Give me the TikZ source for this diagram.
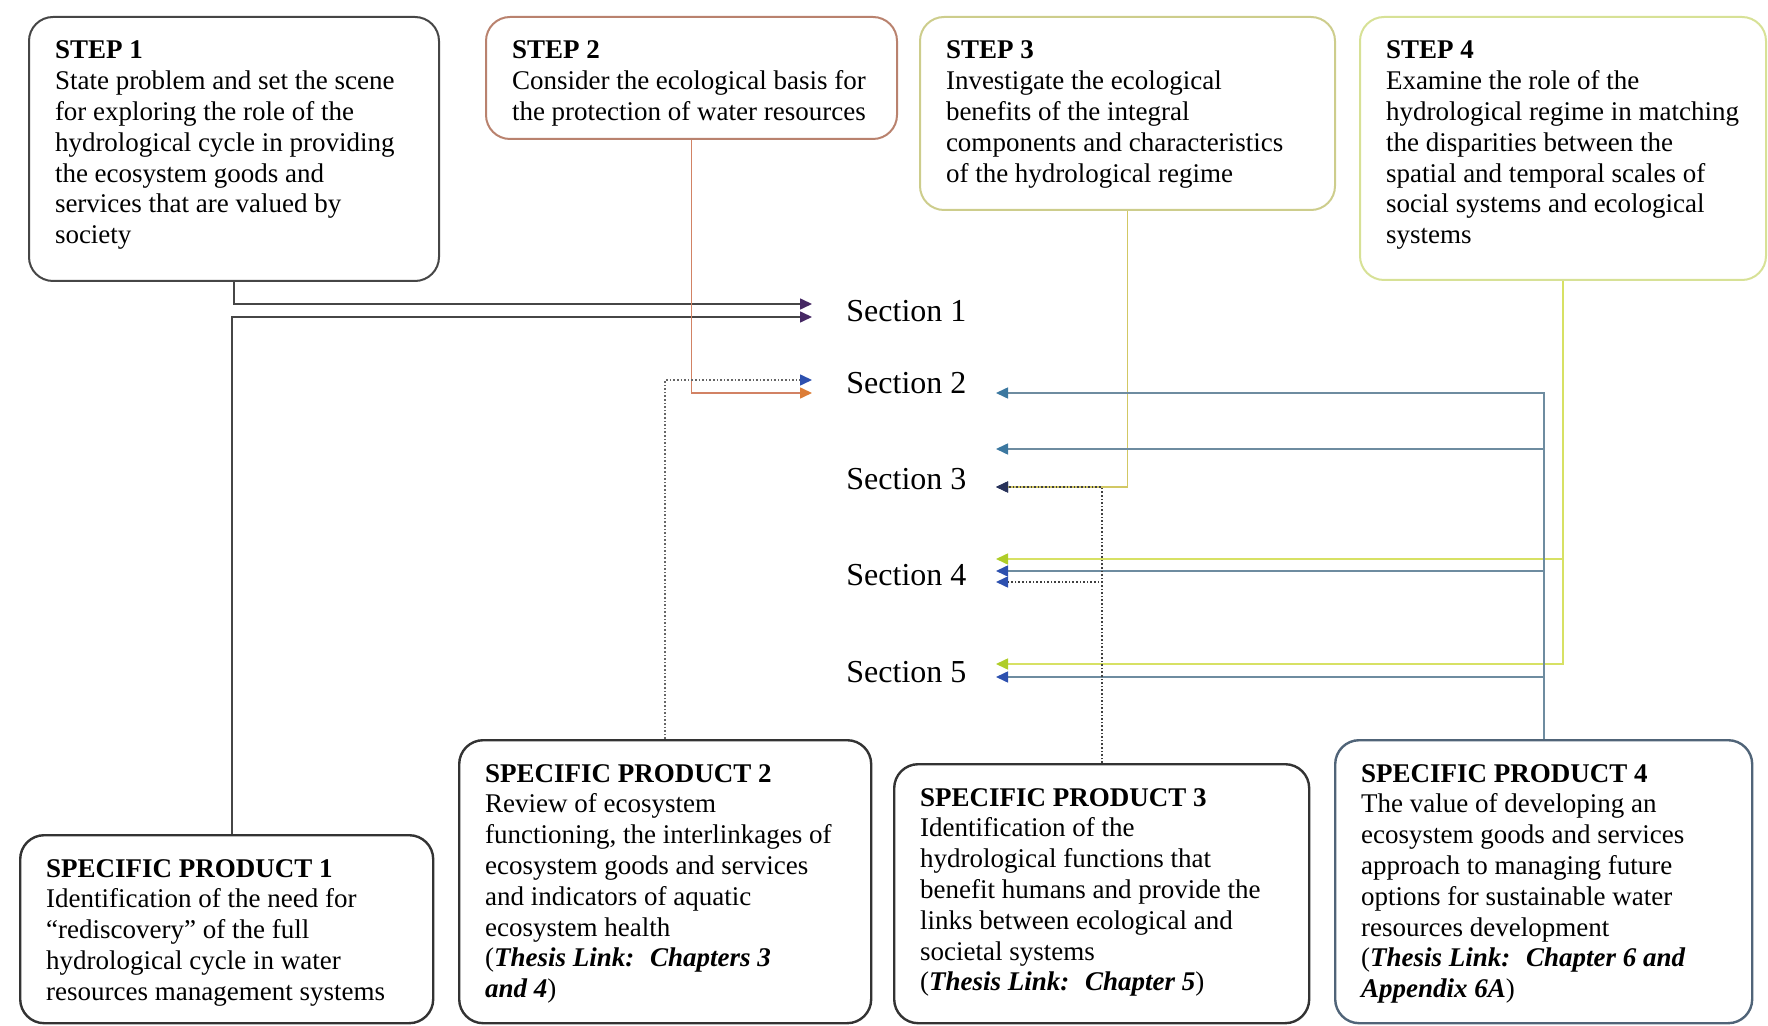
\documentclass[tikz,border=0pt]{standalone}
\usepackage{fontspec}
\setmainfont{Liberation Serif}
\usepackage{tikz}
\usetikzlibrary{arrows.meta,positioning,calc}
\definecolor{boxgray}{RGB}{70,70,70}
\definecolor{steptwo}{RGB}{185,130,110}
\definecolor{stepthree}{RGB}{205,205,140}
\definecolor{stepfour}{RGB}{215,225,150}
\definecolor{prodfour}{RGB}{80,100,120}
\definecolor{lineone}{RGB}{70,70,70}
\definecolor{linetwo}{RGB}{210,130,100}
\definecolor{linethree}{RGB}{210,200,100}
\definecolor{linefour}{RGB}{215,225,100}
\definecolor{lineprod}{RGB}{110,140,160}
\definecolor{headpurple}{RGB}{70,40,100}
\definecolor{headblue}{RGB}{45,80,175}
\definecolor{headorange}{RGB}{220,125,55}
\definecolor{headteal}{RGB}{60,120,160}
\definecolor{headnavy}{RGB}{40,50,90}
\definecolor{headgreen}{RGB}{175,205,40}
\newcommand{\boxtext}[3]{\parbox[c][#2][t]{#1}{\fontsize{13.5}{15.4}\selectfont #3}}

\begin{document}
\begin{tikzpicture}[x=0.5pt, y=-0.5pt,
    box/.style={draw=boxgray, rounded corners=12pt, line width=1pt, anchor=north west, inner xsep=13pt, inner ysep=12pt},
    prodbox/.style={box, draw=black!80, line width=1.2pt},
    seclabel/.style={anchor=west, inner sep=0pt, font=\fontsize{16}{19}\selectfont},
    link/.style={line width=0.8pt},
    headin/.style={-{Triangle[length=6pt,width=5.5pt,color=#1]}}]
    \useasboundingbox (0,0) rectangle (1768,1026);

    % Steps
    \node[box] (s1) at (28,16) {\boxtext{179pt}{108pt}{\textbf{STEP 1}\\
        State problem and set the scene\\ for exploring the role of the\\
        hydrological cycle in providing\\ the ecosystem goods and\\
        services that are valued by\\ society}};
    \node[box, draw=steptwo] (s2) at (485,16) {\boxtext{179.5pt}{37pt}{\textbf{STEP 2}\\
        Consider the ecological basis for\\ the protection of water resources}};
    \node[box, draw=stepthree] (s3) at (919,16) {\boxtext{181.5pt}{72.5pt}{\textbf{STEP 3}\\
        Investigate the ecological\\ benefits of the integral\\
        components and characteristics\\ of the hydrological regime}};
    \node[box, draw=stepfour] (s4) at (1359,16) {\boxtext{177pt}{107.5pt}{\textbf{STEP 4}\\
        Examine the role of the\\ hydrological regime in matching\\
        the disparities between the\\ spatial and temporal scales of\\
        social systems and ecological\\ systems}};

    % Sections
    \node[seclabel] (sec1) at (846,311) {Section 1};
    \node[seclabel] (sec2) at (846,383) {Section 2};
    \node[seclabel] (sec3) at (846,479) {Section 3};
    \node[seclabel] (sec4) at (846,575) {Section 4};
    \node[seclabel] (sec5) at (846,672) {Section 5};

    % Products
    \node[prodbox] (p1) at (19,834) {\boxtext{180.5pt}{70pt}{\textbf{SPECIFIC PRODUCT 1}\\
        Identification of the need for\\ ``rediscovery'' of the full\\
        hydrological cycle in water\\ resources management systems}};
    \node[prodbox] (p2) at (458,739) {\boxtext{180pt}{117.5pt}{\textbf{SPECIFIC PRODUCT 2}\\
        Review of ecosystem\\ functioning, the interlinkages of\\
        ecosystem goods and services\\ and indicators of aquatic\\
        ecosystem health\\ (\textbf{\textit{Thesis Link:~ Chapters 3}}\\
        \textbf{\textit{and 4}})}};
    \node[prodbox] (p3) at (893,763) {\boxtext{181.5pt}{105.5pt}{\textbf{SPECIFIC PRODUCT 3}\\
        Identification of the\\ hydrological functions that\\
        benefit humans and provide the\\ links between ecological and\\
        societal systems\\ (\textbf{\textit{Thesis Link:~ Chapter 5}})}};
    \node[prodbox, draw=prodfour] (p4) at (1334,739) {\boxtext{182.5pt}{117.5pt}{\textbf{SPECIFIC PRODUCT 4}\\
        The value of developing an\\ ecosystem goods and services\\
        approach to managing future\\ options for sustainable water\\
        resources development\\ (\textbf{\textit{Thesis Link:~ Chapter 6 and}}\\
        \textbf{\textit{Appendix 6A}})}};

    % Arrow ends
    \coordinate (t1a) at (812,304);
    \coordinate (t1b) at (812,317);
    \coordinate (t2a) at (812,380);
    \coordinate (t2b) at (812,393);
    \coordinate (r2) at (996,393);
    \coordinate (r3a) at (996,449);
    \coordinate (r3b) at (996,487);
    \coordinate (r4a) at (996,559);
    \coordinate (r4b) at (996,571);
    \coordinate (r4c) at (996,582);
    \coordinate (r5a) at (996,664);
    \coordinate (r5b) at (996,677);
    \coordinate (p1top) at ($(p1.north)+(5,0)$);

    % Links into the sections
    \draw[link, lineone, headin=headpurple] (s1.south) |- (t1a);
    \draw[link, lineone, headin=headpurple] (p1top) |- (t1b);
    \draw[link, linetwo, headin=headorange] (s2.south) |- (t2b);
    \draw[link, black!60, densely dotted, headin=headblue] (p2.north) |- (t2a);
    \draw[link, linethree, headin=headnavy] (s3.south) |- (r3b);
    \draw[link, linefour, headin=headgreen] (s4.south) |- (r4a);
    \draw[link, linefour, headin=headgreen] (s4.south) |- (r5a);
    \foreach \t/\c in {r2/headteal, r3a/headteal, r4b/headblue, r5b/headblue}
        \draw[link, lineprod, headin=\c] (p4.north) |- (\t);
    \draw[link, black!75, densely dotted, headin=headnavy] (p3.north) |- (r3b);
    \draw[link, black!75, densely dotted, headin=headblue] (p3.north) |- (r4c);

\end{tikzpicture}
\end{document}
